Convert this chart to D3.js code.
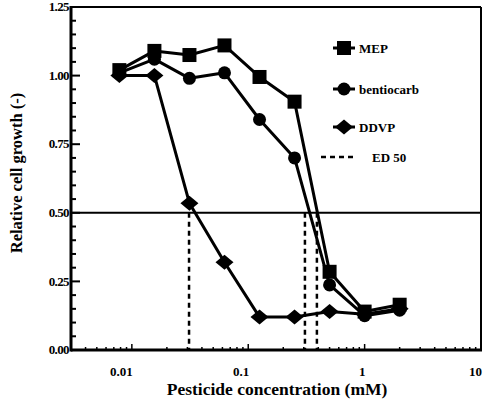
<!DOCTYPE html>
<html>
<head>
<meta charset="utf-8">
<script src="https://cdn.jsdelivr.net/npm/d3@7"></script>
<style>
  html, body { margin: 0; padding: 0; background: #fff; }
  svg { display: block; font-family: "Liberation Serif", "DejaVu Serif", serif; font-weight: bold; }
</style>
</head>
<body>
<div id="chart"></div>
<script>
// Values.
const concentrations = [0.0078125, 0.015625, 0.03125, 0.0625, 0.125, 0.25, 0.5, 1, 2]; // mM
const mepValues        = [1.02, 1.09, 1.075, 1.11, 0.995, 0.905, 0.285, 0.14, 0.165];
const bentiocarbValues = [1.01, 1.06, 0.99, 1.01, 0.84, 0.70, 0.237, 0.125, 0.145];
const ddvpValues       = [1.00, 1.00, 0.535, 0.32, 0.12, 0.12, 0.14, 0.13, 0.15];
const seriesNames = ['MEP', 'bentiocarb', 'DDVP'];
const seriesShapes = ['square', 'circle', 'diamond'];
const ed50Values = [0.389, 0.307, 0.031]; // MEP, bentiocarb, DDVP
const xTickValues = [0.01, 0.1, 1, 10];
const xTickLabels = ['0.01', '0.1', '1', '10'];
const yTickValues = [0, 0.25, 0.5, 0.75, 1, 1.25];
const yTickLabels = ['0.00', '0.25', '0.50', '0.75', '1.00', '1.25'];

const W = 486, H = 401;
const PLOT = { left: 71, right: 481, top: 7, bottom: 350 };

const svg = d3.select('#chart').append('svg')
  .attr('width', W).attr('height', H).attr('viewBox', `0 0 ${W} ${H}`);

const x = d3.scaleLog().domain([0.003, 10]).range([PLOT.left, PLOT.right]);
const y = d3.scaleLinear().domain([0, 1.25]).range([PLOT.bottom, PLOT.top]);

// Frame — top/right thinner than the two axes.
svg.append('line').attr('x1', PLOT.left).attr('x2', PLOT.right).attr('y1', PLOT.top).attr('y2', PLOT.top)
  .attr('stroke', '#000').attr('stroke-width', 2);
svg.append('line').attr('x1', PLOT.right).attr('x2', PLOT.right).attr('y1', PLOT.top).attr('y2', PLOT.bottom)
  .attr('stroke', '#000').attr('stroke-width', 2);

// Minor ticks (inward) on both axes.
const yMinor = d3.range(0, 1.2501, 0.05);
svg.append('g').selectAll('line').data(yMinor).join('line')
  .attr('x1', PLOT.left).attr('x2', (d) => PLOT.left + (Math.round(d * 100) % 25 === 0 ? 9 : 5))
  .attr('y1', (d) => y(d)).attr('y2', (d) => y(d))
  .attr('stroke', '#000').attr('stroke-width', 2);

const xMinor = [];
for (let e = -3; e <= 0; e++) {
  for (let m = 1; m <= 9; m++) {
    const v = m * Math.pow(10, e);
    if (v >= 0.003 && v <= 10) xMinor.push(v);
  }
}
svg.append('g').selectAll('line').data(xMinor).join('line')
  .attr('x1', (d) => x(d)).attr('x2', (d) => x(d))
  .attr('y1', PLOT.bottom).attr('y2', (d) => PLOT.bottom - (xTickValues.some((t) => Math.abs(t - d) < 1e-9) ? 6 : 3))
  .attr('stroke', '#000').attr('stroke-width', 1.5);

// Axes lines.
svg.append('line').attr('x1', PLOT.left).attr('x2', PLOT.left).attr('y1', PLOT.top - 1).attr('y2', PLOT.bottom + 1.5)
  .attr('stroke', '#000').attr('stroke-width', 3);
svg.append('line').attr('x1', PLOT.left).attr('x2', PLOT.right + 1).attr('y1', PLOT.bottom).attr('y2', PLOT.bottom)
  .attr('stroke', '#000').attr('stroke-width', 3);

// Tick labels.
svg.append('g').selectAll('text').data(yTickValues).join('text')
  .attr('x', PLOT.left - 2).attr('y', (d) => y(d)).attr('dy', '0.33em')
  .attr('text-anchor', 'end').attr('font-size', 13).attr('letter-spacing', -0.6)
  .text((d, i) => yTickLabels[i]);
svg.append('g').selectAll('text').data(xTickValues).join('text')
  .attr('x', (d) => x(d) + 1).attr('y', PLOT.bottom + 26)
  .attr('text-anchor', 'end').attr('font-size', 13)
  .text((d, i) => xTickLabels[i]);

// Axis titles.
svg.append('text').attr('x', 277).attr('y', 395).attr('text-anchor', 'middle')
  .attr('font-size', 17.5).text('Pesticide concentration (mM)');
svg.append('text').attr('transform', 'translate(22,173) rotate(-90)').attr('text-anchor', 'middle')
  .attr('font-size', 16.5).text('Relative cell growth (-)');

// 50 % reference line and ED50 drops.
svg.append('line').attr('x1', PLOT.left).attr('x2', PLOT.right).attr('y1', y(0.5)).attr('y2', y(0.5))
  .attr('stroke', '#000').attr('stroke-width', 2);
svg.append('g').selectAll('line').data(ed50Values).join('line')
  .attr('x1', (d) => x(d)).attr('x2', (d) => x(d)).attr('y1', y(0.5)).attr('y2', PLOT.bottom)
  .attr('stroke', '#000').attr('stroke-width', 2.5).attr('stroke-dasharray', '5 4');

// Series.
const allValues = [mepValues, bentiocarbValues, ddvpValues];
const line = d3.line().x((d, i) => x(concentrations[i])).y((d) => y(d));

function drawMarker(g, shape, cx, cy) {
  if (shape === 'square') {
    g.append('rect').attr('x', cx - 7).attr('y', cy - 7).attr('width', 14).attr('height', 14).attr('fill', '#000');
  } else if (shape === 'circle') {
    g.append('circle').attr('cx', cx).attr('cy', cy).attr('r', 6.5).attr('fill', '#000');
  } else {
    g.append('path').attr('d', `M${cx - 9},${cy}L${cx},${cy - 7.5}L${cx + 9},${cy}L${cx},${cy + 7.5}Z`).attr('fill', '#000');
  }
}

allValues.forEach((vals, k) => {
  const g = svg.append('g');
  g.append('path').datum(vals).attr('d', line)
    .attr('fill', 'none').attr('stroke', '#000').attr('stroke-width', 3).attr('stroke-linejoin', 'round');
  vals.forEach((v, i) => drawMarker(g, seriesShapes[k], x(concentrations[i]), y(v)));
});

// Legend.
const legendRows = [48, 89, 127];
seriesNames.forEach((name, k) => {
  const g = svg.append('g');
  const cy = legendRows[k];
  g.append('line').attr('x1', 333).attr('x2', 355).attr('y1', cy).attr('y2', cy)
    .attr('stroke', '#000').attr('stroke-width', 3);
  drawMarker(g, seriesShapes[k], 344, cy);
  g.append('text').attr('x', 359).attr('y', cy).attr('dy', '0.35em')
    .attr('font-size', 13).text(name);
});
svg.append('line').attr('x1', 321).attr('x2', 354).attr('y1', 157).attr('y2', 157)
  .attr('stroke', '#000').attr('stroke-width', 2.5).attr('stroke-dasharray', '5 4');
svg.append('text').attr('x', 372).attr('y', 157).attr('dy', '0.35em')
  .attr('font-size', 13).text('ED 50');
</script>
</body>
</html>
